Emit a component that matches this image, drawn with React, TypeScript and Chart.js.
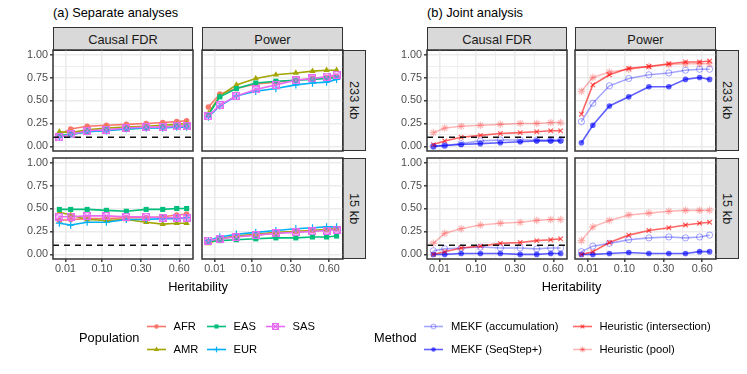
import React, { useEffect, useRef } from 'react';
import { Chart, registerables } from 'chart.js';

Chart.register(...registerables);

const FONT = '"Liberation Sans", Arial, Helvetica, sans-serif';

// ---------------- data ----------------
const heritability = [0.004, 0.017, 0.052, 0.117, 0.212, 0.334, 0.457, 0.576, 0.669];
const xTickLabels = [0.01, 0.1, 0.3, 0.6];
const yTickLabels = [0, 0.25, 0.5, 0.75, 1];
const targetFdr = 0.1;

const populations = ['AFR', 'AMR', 'EAS', 'EUR', 'SAS'];
const methods = ['MEKF (accumulation)', 'MEKF (SeqStep+)', 'Heuristic (intersection)', 'Heuristic (pool)'];
const regionLabels = ['233 kb', '15 kb'];
const metricLabels = ['Causal FDR', 'Power'];

// (a) Separate analyses
const sepFdr233_AFR = [0.13, 0.19, 0.22, 0.23, 0.24, 0.25, 0.26, 0.27, 0.28];
const sepFdr233_AMR = [0.16, 0.15, 0.18, 0.2, 0.21, 0.22, 0.23, 0.24, 0.25];
const sepFdr233_EAS = [0.12, 0.13, 0.16, 0.18, 0.19, 0.2, 0.21, 0.22, 0.22];
const sepFdr233_EUR = [0.1, 0.13, 0.16, 0.17, 0.19, 0.2, 0.2, 0.21, 0.21];
const sepFdr233_SAS = [0.1, 0.13, 0.17, 0.18, 0.2, 0.21, 0.21, 0.22, 0.22];

const sepPow233_AFR = [0.43, 0.57, 0.63, 0.68, 0.7, 0.72, 0.74, 0.75, 0.76];
const sepPow233_AMR = [0.36, 0.55, 0.67, 0.74, 0.78, 0.8, 0.82, 0.83, 0.83];
const sepPow233_EAS = [0.34, 0.54, 0.63, 0.69, 0.71, 0.72, 0.73, 0.74, 0.75];
const sepPow233_EUR = [0.32, 0.44, 0.55, 0.6, 0.63, 0.67, 0.69, 0.7, 0.73];
const sepPow233_SAS = [0.33, 0.45, 0.55, 0.62, 0.67, 0.72, 0.74, 0.76, 0.78];

const sepFdr15_AFR = [0.37, 0.38, 0.39, 0.39, 0.4, 0.4, 0.41, 0.43, 0.44];
const sepFdr15_AMR = [0.46, 0.43, 0.38, 0.37, 0.38, 0.35, 0.33, 0.34, 0.34];
const sepFdr15_EAS = [0.49, 0.49, 0.49, 0.48, 0.47, 0.49, 0.49, 0.5, 0.5];
const sepFdr15_EUR = [0.34, 0.32, 0.35, 0.35, 0.38, 0.38, 0.39, 0.39, 0.4];
const sepFdr15_SAS = [0.41, 0.41, 0.42, 0.42, 0.41, 0.41, 0.4, 0.4, 0.4];

const sepPow15_AFR = [0.14, 0.17, 0.2, 0.21, 0.23, 0.25, 0.26, 0.27, 0.28];
const sepPow15_AMR = [0.12, 0.17, 0.2, 0.22, 0.24, 0.25, 0.26, 0.27, 0.28];
const sepPow15_EAS = [0.14, 0.15, 0.16, 0.17, 0.18, 0.18, 0.19, 0.19, 0.2];
const sepPow15_EUR = [0.15, 0.19, 0.22, 0.24, 0.26, 0.28, 0.29, 0.3, 0.3];
const sepPow15_SAS = [0.15, 0.17, 0.19, 0.21, 0.23, 0.24, 0.25, 0.26, 0.27];

// (b) Joint analysis
const jntFdr233_acc = [0.0, 0.01, 0.03, 0.06, 0.07, 0.07, 0.07, 0.07, 0.07];
const jntFdr233_seq = [0.0, 0.01, 0.02, 0.03, 0.04, 0.05, 0.06, 0.06, 0.06];
const jntFdr233_int = [0.02, 0.06, 0.1, 0.12, 0.14, 0.15, 0.16, 0.17, 0.17];
const jntFdr233_pool = [0.15, 0.2, 0.22, 0.23, 0.24, 0.25, 0.25, 0.26, 0.26];

const jntPow233_acc = [0.27, 0.47, 0.66, 0.74, 0.78, 0.8, 0.83, 0.84, 0.84];
const jntPow233_seq = [0.04, 0.23, 0.44, 0.54, 0.65, 0.65, 0.73, 0.75, 0.73];
const jntPow233_int = [0.35, 0.67, 0.78, 0.85, 0.87, 0.9, 0.92, 0.92, 0.93];
const jntPow233_pool = [0.6, 0.75, 0.81, 0.84, 0.87, 0.89, 0.9, 0.9, 0.9];

const jntFdr15_acc = [0.04, 0.06, 0.07, 0.08, 0.07, 0.07, 0.06, 0.07, 0.07];
const jntFdr15_seq = [0.0, 0.0, 0.01, 0.01, 0.01, 0.0, 0.0, 0.01, 0.01];
const jntFdr15_int = [0.0, 0.03, 0.07, 0.09, 0.12, 0.13, 0.15, 0.16, 0.17];
const jntFdr15_pool = [0.12, 0.23, 0.28, 0.32, 0.34, 0.35, 0.37, 0.38, 0.38];

const jntPow15_acc = [0.03, 0.09, 0.12, 0.16, 0.18, 0.19, 0.18, 0.19, 0.21];
const jntPow15_seq = [0.0, 0.0, 0.01, 0.02, 0.01, 0.01, 0.01, 0.03, 0.03];
const jntPow15_int = [0.0, 0.03, 0.13, 0.21, 0.26, 0.29, 0.32, 0.34, 0.35];
const jntPow15_pool = [0.15, 0.3, 0.37, 0.43, 0.45, 0.47, 0.48, 0.48, 0.48];

// ---------------- styles ----------------
type Sty = { color: string; shape: string; r: number; fill: string; bw: number };

const popStyles: Sty[] = [
  { color: '#F8766D', shape: 'circle', r: 2.8, fill: '#F8766D', bw: 0 },
  { color: '#A3A500', shape: 'triangle', r: 3.6, fill: '#A3A500', bw: 0 },
  { color: '#00BF7D', shape: 'rect', r: 3.6, fill: '#00BF7D', bw: 0 },
  { color: '#00B0F6', shape: 'cross', r: 3.6, fill: '#00B0F6', bw: 1.2 },
  { color: '#E76BF3', shape: 'sqx', r: 3.5, fill: 'rgba(0,0,0,0)', bw: 1.2 },
];

const methodStyles: Sty[] = [
  { color: 'rgba(0,0,255,0.35)', shape: 'circle', r: 3.1, fill: 'rgba(0,0,0,0)', bw: 1 },
  { color: 'rgba(0,0,255,0.62)', shape: 'circle', r: 2.8, fill: 'rgba(0,0,255,0.62)', bw: 0 },
  { color: 'rgba(255,0,0,0.6)', shape: 'crossRot', r: 3.2, fill: 'rgba(0,0,0,0)', bw: 1.2 },
  { color: 'rgba(255,0,0,0.28)', shape: 'star', r: 3.8, fill: 'rgba(0,0,0,0)', bw: 1.2 },
];

// ---------------- geometry ----------------
const ROW_Y = [50, 158];
const ROW_H = 101;
const STRIP_TOP = 27;
const STRIP_H = 23;
const STRIP_W = 23;

const SUBFIGS = [
  { title: '(a) Separate analyses', panelX: [53, 202], panelW: [140, 141], stripX: 343 },
  { title: '(b) Joint analysis', panelX: [427, 575], panelW: [140, 141], stripX: 716 },
];

const borderPlugin = {
  id: 'panelBorder',
  afterDraw(chart: any) {
    const { ctx, chartArea: a } = chart;
    ctx.save();
    ctx.strokeStyle = '#333333';
    ctx.lineWidth = 1.5;
    ctx.strokeRect(a.left, a.top, a.right - a.left, a.bottom - a.top);
    ctx.restore();
  },
};

function makeSquareX(color: string, size: number, lw: number) {
  const c = document.createElement('canvas');
  c.width = size;
  c.height = size;
  const g = c.getContext('2d')!;
  g.strokeStyle = color;
  g.lineWidth = lw;
  const o = lw / 2;
  g.strokeRect(o, o, size - lw, size - lw);
  g.beginPath();
  g.moveTo(o, o);
  g.lineTo(size - o, size - o);
  g.moveTo(size - o, o);
  g.lineTo(o, size - o);
  g.stroke();
  return c;
}

type PanelProps = {
  rect: { x: number; y: number; w: number; h: number };
  showX: boolean;
  showY: boolean;
  values: number[][];
  styles: Sty[];
  hline: boolean;
};

function Panel({ rect, showX, showY, values, styles, hline }: PanelProps) {
  const ref = useRef<HTMLCanvasElement>(null);
  const PAD = 8;
  const L = showY ? 34 : 0;
  const B = showX ? 24 : 0;
  const cw = rect.w + L + 2 * PAD;
  const ch = rect.h + B + 2 * PAD;

  useEffect(() => {
    const xs = heritability.map((h) => Math.sqrt(h));
    const span = xs[xs.length - 1] - xs[0];
    const xMin = xs[0] - 0.05 * span;
    const xMax = xs[xs.length - 1] + 0.05 * span;
    const majX = xTickLabels.map((v) => Math.sqrt(v));
    const minX = majX.slice(1).map((v, i) => (v + majX[i]) / 2);
    const majY = yTickLabels.slice();
    const minY = majY.slice(1).map((v, i) => (v + majY[i]) / 2);
    const isMaj = (arr: number[], v: number) => arr.some((m) => Math.abs(m - v) < 1e-9);

    const resolveShape = (s: Sty) => (s.shape === 'sqx' ? makeSquareX(s.color, 8, s.bw) : s.shape);

    const lineSets = values.map((vals, k) => ({
      data: vals.map((v, i) => ({ x: xs[i], y: v })),
      borderColor: styles[k].color,
      borderWidth: 1.6,
      pointRadius: 0,
      pointHoverRadius: 0,
      fill: false,
      tension: 0,
    }));
    const pointSets = values.map((vals, k) => ({
      data: vals.map((v, i) => ({ x: xs[i], y: v })),
      showLine: false,
      pointStyle: resolveShape(styles[k]),
      pointRadius: styles[k].r,
      pointHoverRadius: styles[k].r,
      pointBackgroundColor: styles[k].fill,
      pointBorderColor: styles[k].color,
      pointBorderWidth: styles[k].bw,
    }));
    const hlineSet = {
      data: [
        { x: xMin, y: targetFdr },
        { x: xMax, y: targetFdr },
      ],
      borderColor: '#111111',
      borderWidth: 1.5,
      borderDash: [6, 5],
      pointRadius: 0,
      pointHoverRadius: 0,
      fill: false,
    };
    const datasets: any[] = [
      ...(hline ? [hlineSet] : []),
      ...pointSets.slice().reverse(),
      ...lineSets.slice().reverse(),
    ];

    const tickFont = { size: 10.8, family: FONT };
    const chart = new Chart(ref.current!, {
      type: 'line',
      data: { datasets },
      options: {
        animation: false,
        responsive: false,
        events: [],
        layout: { padding: PAD },
        plugins: { legend: { display: false }, tooltip: { enabled: false } },
        scales: {
          x: {
            type: 'linear',
            min: xMin,
            max: xMax,
            afterBuildTicks: (s: any) => {
              s.ticks = [...majX, ...minX].sort((a, b) => a - b).map((v) => ({ value: v }));
            },
            afterFit: (s: any) => {
              s.height = B;
              s.paddingLeft = 0;
              s.paddingRight = 0;
            },
            ticks: {
              display: showX,
              autoSkip: false,
              maxRotation: 0,
              minRotation: 0,
              padding: 1,
              color: '#4D4D4D',
              font: tickFont,
              callback: (v: any) => {
                const i = majX.findIndex((m) => Math.abs(m - v) < 1e-9);
                return i >= 0 ? xTickLabels[i].toFixed(2) : '';
              },
            },
            grid: {
              color: '#EBEBEB',
              lineWidth: (c: any) => (c.tick && isMaj(majX, c.tick.value) ? 1.6 : 0.8),
              drawTicks: showX,
              tickLength: 3,
              tickColor: (c: any) => (c.tick && isMaj(majX, c.tick.value) ? '#333333' : 'rgba(0,0,0,0)'),
              tickWidth: 1.4,
            },
            border: { display: false },
          },
          y: {
            type: 'linear',
            min: -0.05,
            max: 1.05,
            afterBuildTicks: (s: any) => {
              s.ticks = [...majY, ...minY].sort((a, b) => a - b).map((v) => ({ value: v }));
            },
            afterFit: (s: any) => {
              s.width = L;
              s.paddingTop = 0;
              s.paddingBottom = 0;
            },
            ticks: {
              display: showY,
              autoSkip: false,
              padding: 2,
              color: '#4D4D4D',
              font: tickFont,
              callback: (v: any) => (isMaj(majY, v) ? Number(v).toFixed(2) : ''),
            },
            grid: {
              color: '#EBEBEB',
              lineWidth: (c: any) => (c.tick && isMaj(majY, c.tick.value) ? 1.6 : 0.8),
              drawTicks: showY,
              tickLength: 3,
              tickColor: (c: any) => (c.tick && isMaj(majY, c.tick.value) ? '#333333' : 'rgba(0,0,0,0)'),
              tickWidth: 1.4,
            },
            border: { display: false },
          },
        },
      },
      plugins: [borderPlugin],
    } as any);
    return () => chart.destroy();
  }, []);

  return (
    <canvas
      ref={ref}
      width={cw}
      height={ch}
      style={{ position: 'absolute', left: rect.x - L - PAD, top: rect.y - PAD, width: cw, height: ch }}
    />
  );
}

function KeyIcon({ s }: { s: Sty }) {
  const cx = 9.5;
  const cy = 8.5;
  const r = s.r * 0.8;
  let shape: any = null;
  if (s.shape === 'circle') {
    shape = <circle cx={cx} cy={cy} r={r} fill={s.fill} stroke={s.bw ? s.color : 'none'} strokeWidth={s.bw} />;
  } else if (s.shape === 'triangle') {
    shape = <polygon points={`${cx},${cy - r} ${cx - r * 0.87},${cy + r * 0.5} ${cx + r * 0.87},${cy + r * 0.5}`} fill={s.fill} />;
  } else if (s.shape === 'rect') {
    const a = r * Math.SQRT1_2;
    shape = <rect x={cx - a} y={cy - a} width={2 * a} height={2 * a} fill={s.fill} />;
  } else if (s.shape === 'cross') {
    shape = (
      <g stroke={s.color} strokeWidth={s.bw}>
        <line x1={cx - r} y1={cy} x2={cx + r} y2={cy} />
        <line x1={cx} y1={cy - r} x2={cx} y2={cy + r} />
      </g>
    );
  } else if (s.shape === 'sqx') {
    const a = 2.9;
    shape = (
      <g stroke={s.color} strokeWidth={s.bw} fill="none">
        <rect x={cx - a} y={cy - a} width={2 * a} height={2 * a} />
        <line x1={cx - a} y1={cy - a} x2={cx + a} y2={cy + a} />
        <line x1={cx + a} y1={cy - a} x2={cx - a} y2={cy + a} />
      </g>
    );
  } else if (s.shape === 'crossRot' || s.shape === 'star') {
    const d = r * Math.SQRT1_2;
    shape = (
      <g stroke={s.color} strokeWidth={s.bw}>
        <line x1={cx - d} y1={cy - d} x2={cx + d} y2={cy + d} />
        <line x1={cx + d} y1={cy - d} x2={cx - d} y2={cy + d} />
        {s.shape === 'star' ? <line x1={cx - r} y1={cy} x2={cx + r} y2={cy} /> : null}
        {s.shape === 'star' ? <line x1={cx} y1={cy - r} x2={cx} y2={cy + r} /> : null}
      </g>
    );
  }
  return (
    <svg width={19} height={17} style={{ display: 'block' }}>
      <line x1={0} y1={cy} x2={19} y2={cy} stroke={s.color} strokeWidth={1.6} />
      {shape}
    </svg>
  );
}

function Txt({ x, y, size, children, color = '#000', align = 'left' }: any) {
  const lh = Math.round(size * 1.3);
  const style: any = {
    position: 'absolute',
    top: y - lh / 2,
    fontSize: size,
    lineHeight: `${lh}px`,
    color,
    whiteSpace: 'nowrap',
    left: x,
  };
  if (align === 'center') style.transform = 'translateX(-50%)';
  return <div style={style}>{children}</div>;
}

function LegendItem({ x, y, s, label }: { x: number; y: number; s: Sty; label: string }) {
  return (
    <>
      <div style={{ position: 'absolute', left: x, top: y - 8.5 }}>
        <KeyIcon s={s} />
      </div>
      <Txt x={x + 27} y={y} size={11.2}>
        {label}
      </Txt>
    </>
  );
}

const sepValues = [
  [
    [sepFdr233_AFR, sepFdr233_AMR, sepFdr233_EAS, sepFdr233_EUR, sepFdr233_SAS],
    [sepPow233_AFR, sepPow233_AMR, sepPow233_EAS, sepPow233_EUR, sepPow233_SAS],
  ],
  [
    [sepFdr15_AFR, sepFdr15_AMR, sepFdr15_EAS, sepFdr15_EUR, sepFdr15_SAS],
    [sepPow15_AFR, sepPow15_AMR, sepPow15_EAS, sepPow15_EUR, sepPow15_SAS],
  ],
];

const jntValues = [
  [
    [jntFdr233_acc, jntFdr233_seq, jntFdr233_int, jntFdr233_pool],
    [jntPow233_acc, jntPow233_seq, jntPow233_int, jntPow233_pool],
  ],
  [
    [jntFdr15_acc, jntFdr15_seq, jntFdr15_int, jntFdr15_pool],
    [jntPow15_acc, jntPow15_seq, jntPow15_int, jntPow15_pool],
  ],
];

export default function App() {
  const stripStyle: any = {
    position: 'absolute',
    background: '#D9D9D9',
    border: '1.5px solid #333333',
    boxSizing: 'border-box',
    color: '#1A1A1A',
    fontSize: 12.8,
    display: 'flex',
    alignItems: 'center',
    justifyContent: 'center',
    whiteSpace: 'nowrap',
  };

  const allValues = [sepValues, jntValues];
  const allStyles = [popStyles, methodStyles];

  return (
    <div
      style={{
        position: 'fixed',
        left: 0,
        top: 0,
        width: 747,
        height: 374,
        background: '#FFFFFF',
        fontFamily: FONT,
        overflow: 'hidden',
      }}
    >
      {SUBFIGS.map((sf, si) => (
        <React.Fragment key={si}>
          <Txt x={sf.panelX[0]} y={12.8} size={12.8}>
            {sf.title}
          </Txt>
          {metricLabels.map((m, ci) => (
            <div
              key={'s' + ci}
              style={{ ...stripStyle, left: sf.panelX[ci], top: STRIP_TOP, width: sf.panelW[ci], height: STRIP_H + 1 }}
            >
              {m}
            </div>
          ))}
          {regionLabels.map((r, ri) => (
            <div
              key={'r' + ri}
              style={{
                ...stripStyle,
                left: sf.stripX - 1,
                top: ROW_Y[ri],
                width: STRIP_W + 1,
                height: ROW_H,
              }}
            >
              <span style={{ writingMode: 'vertical-rl' }}>{r}</span>
            </div>
          ))}
          {regionLabels.map((_, ri) =>
            metricLabels.map((__, ci) => (
              <Panel
                key={`p${ri}${ci}`}
                rect={{ x: sf.panelX[ci], y: ROW_Y[ri], w: sf.panelW[ci], h: ROW_H }}
                showX={ri === 1}
                showY={ci === 0}
                values={allValues[si][ri][ci]}
                styles={allStyles[si]}
                hline={ci === 0}
              />
            ))
          )}
          <Txt x={(sf.panelX[0] + sf.stripX) / 2} y={286} size={12.8} align="center">
            Heritability
          </Txt>
        </React.Fragment>
      ))}

      {/* Legend (a) */}
      <Txt x={79} y={337} size={12.8}>
        Population
      </Txt>
      <LegendItem x={146.5} y={326} s={popStyles[0]} label={populations[0]} />
      <LegendItem x={146.5} y={349} s={popStyles[1]} label={populations[1]} />
      <LegendItem x={206.5} y={326} s={popStyles[2]} label={populations[2]} />
      <LegendItem x={206.5} y={349} s={popStyles[3]} label={populations[3]} />
      <LegendItem x={265.5} y={326} s={popStyles[4]} label={populations[4]} />

      {/* Legend (b) */}
      <Txt x={374} y={337} size={12.8}>
        Method
      </Txt>
      <LegendItem x={424} y={326} s={methodStyles[0]} label={methods[0]} />
      <LegendItem x={424} y={349} s={methodStyles[1]} label={methods[1]} />
      <LegendItem x={572.5} y={326} s={methodStyles[2]} label={methods[2]} />
      <LegendItem x={572.5} y={349} s={methodStyles[3]} label={methods[3]} />
    </div>
  );
}
